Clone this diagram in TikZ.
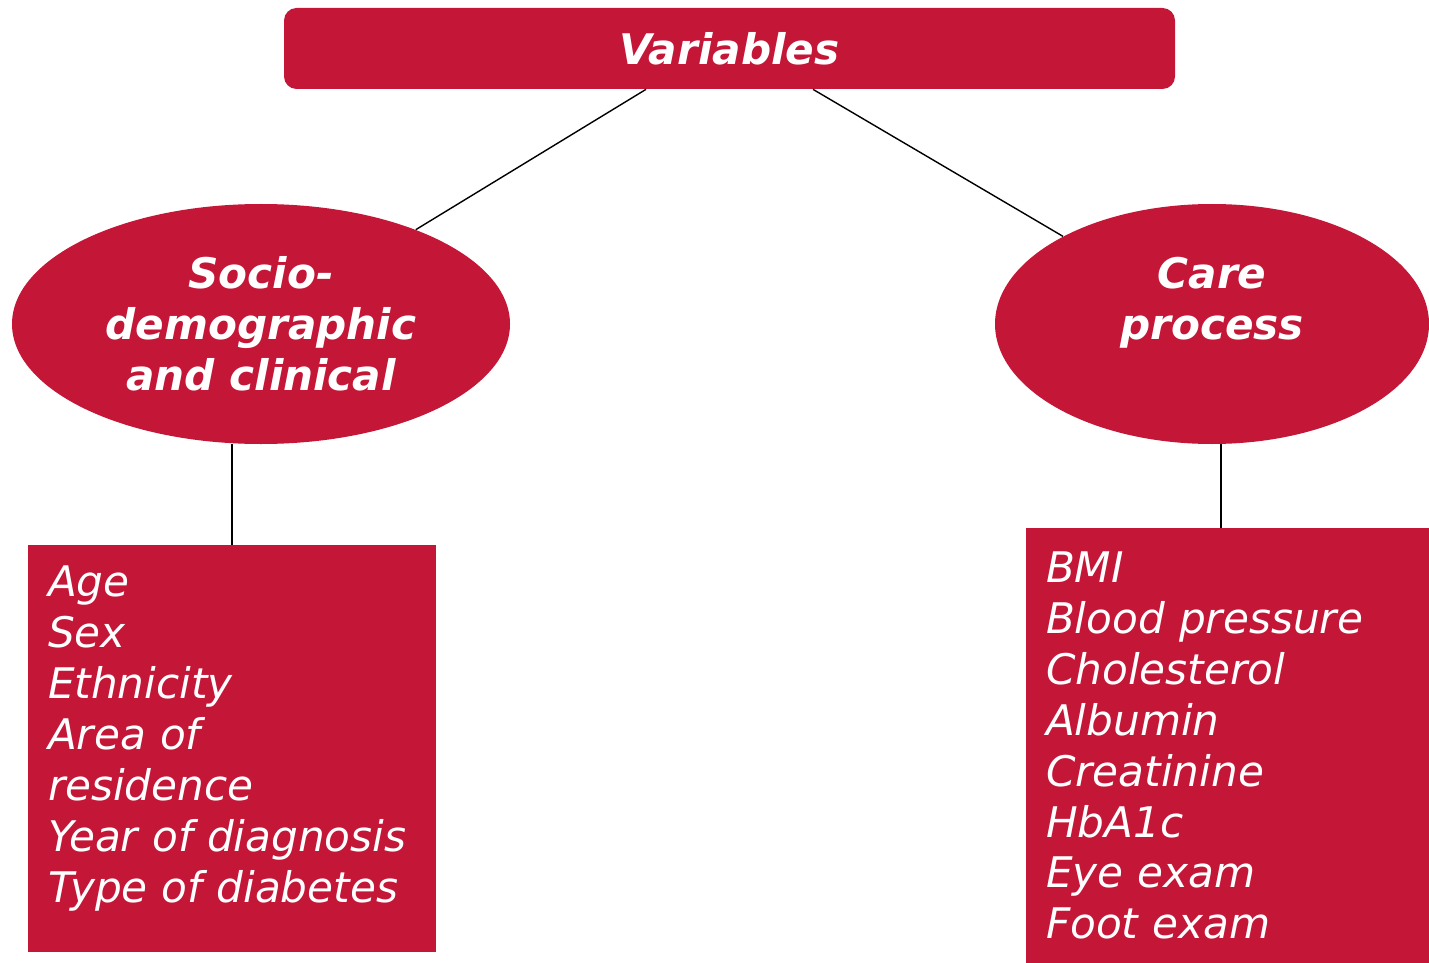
\documentclass[tikz,border=0pt]{standalone}
\usepackage{fontspec}
\setmainfont{DejaVu Sans}
\usepackage{tikz}
\usetikzlibrary{shapes.geometric,positioning,calc}
\definecolor{crimson}{RGB}{196,22,55}

\begin{document}
\begin{tikzpicture}[
    redfill/.style={fill=crimson,draw=none,text=white},
    headbox/.style={redfill,rectangle,rounded corners=.25cm,minimum width=17.82cm,minimum height=1.62cm,
      font=\fontsize{24}{29}\selectfont\bfseries\itshape},
    groupoval/.style={redfill,ellipse,inner sep=0pt,minimum height=4.8cm,align=center,
      font=\fontsize{24}{29}\selectfont\bfseries\itshape},
    listbox/.style={redfill,rectangle,inner xsep=.4cm,inner ysep=0pt,align=left,
      font=\fontsize{24}{29}\selectfont\itshape},
    link/.style={black,line width=.8pt}
  ]
      \useasboundingbox (0,0) rectangle (28.58,-19.26);

      \node[headbox] (vars) at (14.59,-.97) {Variables};

      \node[groupoval,minimum width=9.96cm] (soc) at (5.22,-6.48) {Socio-\\demographic\\and clinical};
      \node[groupoval,minimum width=8.68cm] (care) at (24.24,-6.48) {Care\\process\\\phantom{and clinical}};

      \node[listbox,text width=7.36cm,minimum height=8.14cm,text depth=6.68cm] (socbox) at (4.64,-14.97)
        {Age\\Sex\\Ethnicity\\Area of\\residence\\Year of diagnosis\\Type of diabetes};
      \node[listbox,text width=7.26cm,minimum height=8.7cm] (carebox) at (24.55,-14.91)
        {BMI\\Blood pressure\\Cholesterol\\Albumin\\Creatinine\\HbA1c\\Eye exam\\Foot exam};

      \draw[link] ([xshift=-1.67cm]vars.south) -- (soc);
      \draw[link] ([xshift=1.67cm]vars.south) -- (care);

      \draw[link] (socbox.north) -- (socbox.north |- soc.south);
      \draw[link] ([xshift=-.13cm]carebox.north) -- ([xshift=-.13cm]carebox.north |- care.south);
    \end{tikzpicture}
\end{document}
